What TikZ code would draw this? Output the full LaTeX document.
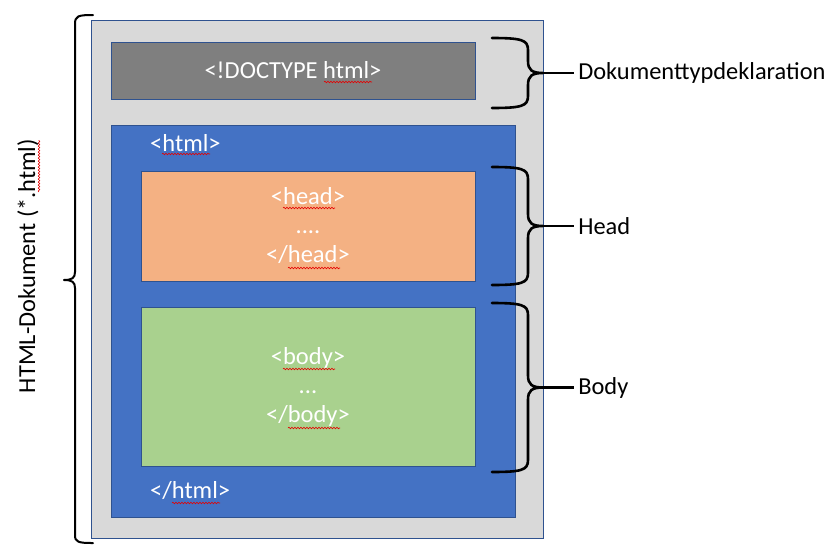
\documentclass[tikz,border=0pt]{standalone}
\usepackage{fontspec}
\setmainfont{Carlito}
\usetikzlibrary{decorations.pathmorphing}

\begin{document}
\begin{tikzpicture}[x=1pt,y=-1pt,
    box/.style={draw=boxline,line width=0.8pt,inner sep=0pt},
    tag/.style={text=white,font=\fontsize{24.5}{29}\selectfont,inner sep=0pt,align=center},
    lbl/.style={font=\fontsize{24.4}{29}\selectfont,inner sep=0pt,anchor=west},
    brace/.style={line width=2.6pt,line cap=round,line join=round},
    squig/.style={draw=red!90!black,line width=0.6pt,decorate,
        decoration={snake,segment length=3pt,amplitude=0.8pt}}]

    \definecolor{boxline}{RGB}{47,82,143}
    \definecolor{pagegray}{RGB}{217,217,217}
    \definecolor{doctgray}{RGB}{127,127,127}
    \definecolor{htmlblue}{RGB}{68,114,196}
    \definecolor{headorange}{RGB}{244,177,131}
    \definecolor{bodygreen}{RGB}{169,209,142}

    \newcommand{\sidebrace}[4]{%
        \draw[brace] (492,#1) .. controls (522,#1) and (528,{#1+2}) .. (528,{#1+12})
            -- (528,{(#1+#2)/2-12}) .. controls (528,{(#1+#2)/2-3}) and (532,{(#1+#2)/2}) .. (543,{(#1+#2)/2})
            .. controls (532,{(#1+#2)/2}) and (528,{(#1+#2)/2+3}) .. (528,{(#1+#2)/2+12})
            -- (528,{#2-12}) .. controls (528,{#2-2}) and (522,#2) .. (492,#2);
        \draw[brace,line cap=butt] (543,{(#1+#2)/2}) -- (574,{(#1+#2)/2})
            node[lbl,xshift=3pt] (#3) {#4};
    }

    \useasboundingbox (0,0) rectangle (834,552);

    % boxes
    \node[box,fill=pagegray,minimum width=452pt,minimum height=518pt] (page) at (317,279) {};
    \node[box,fill=doctgray,minimum width=364pt,minimum height=57pt] (doct) at (293,70.5) {};
    \node[box,fill=htmlblue,minimum width=404pt,minimum height=392pt] (html) at (313,321) {};
    \node[box,fill=headorange,minimum width=334pt,minimum height=110pt] (head) at (308,226) {};
    \node[box,fill=bodygreen,minimum width=334pt,minimum height=159pt] (body) at (308,386.5) {};

    % tags
    \node[tag] (docttxt) at (doct) {<!DOCTYPE html>};
    \node[tag,anchor=west] (htmlopen) at (150,143) {<html>};
    \node[tag,anchor=west] (htmlclose) at (150,491) {</html>};
    \node[tag] (headtxt) at (head) {<head>\\....\\</head>};
    \node[tag] (bodytxt) at (body) {<body>\\...\\</body>};

    % spell check marks
    \foreach \xa/\xb/\y in {324/372/82,162/210/154,283/335/208,288/340/268,
        283/335/369,288/340/428,172/220/503}
    \draw[squig] (\xa,\y) -- (\xb,\y);
    \draw[squig] (39,192) -- (39,140);

    % braces
    \sidebrace{38}{108}{doctlbl}{Dokumenttypdeklaration}
    \sidebrace{167}{285}{headlbl}{Head}
    \sidebrace{303}{472}{bodylbl}{Body}

    \draw[brace,line width=2pt] (93,15) .. controls (78,15) and (75,16) .. (75,24)
        -- (75,272) .. controls (75,278) and (72,280) .. (64,280)
        .. controls (72,280) and (75,282) .. (75,288)
        -- (75,535) .. controls (75,542) and (78,543) .. (93,543);
    \node[lbl,anchor=center,rotate=90] (doclbl) at (28,266) {HTML-Dokument (*.html)};

\end{tikzpicture}
\end{document}
